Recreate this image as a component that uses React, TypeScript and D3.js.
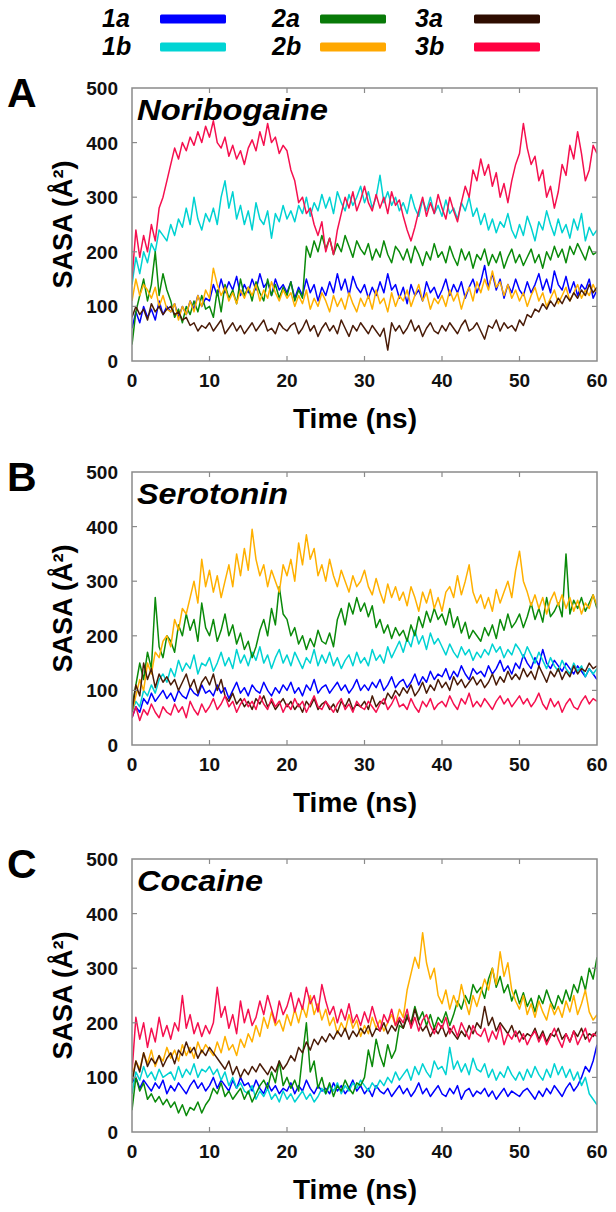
import React from "react";
import * as d3 from "d3";

// ---------- data (SASA in Å², sampled every 0.5 ns from 0 to 60 ns) ----------
const TIME_STEP = 0.5;
const seriesKeys = ["1a", "1b", "2a", "2b", "3a", "3b"];
const seriesColors = ["#0000ff", "#00d2d2", "#0a8a0a", "#ffb000", "#4a1c08", "#f5104f"];
const legendColors = ["#0000ff", "#00d4d4", "#087a08", "#ffa800", "#2e0c00", "#ff0040"];
const panelLetters = ["A", "B", "C"];
const panelTitles = ["Noribogaine", "Serotonin", "Cocaine"];
const xTicks = [0, 10, 20, 30, 40, 50, 60];
const yTicks = [0, 100, 200, 300, 400, 500];

const A_1a = [60,90,70,100,80,95,75,110,85,100, 90,105,80,100,85,110,95,120,100,115, 110,140,120,150,125,145,130,155,120,140, 125,150,130,160,135,145,120,150,130,140, 125,145,115,135,120,150,125,140,110,135, 120,145,125,160,130,150,120,155,135,125, 140,115,135,120,145,125,160,130,140,115, 135,105,140,120,130,110,145,125,135,115, 130,150,120,140,125,145,115,135,150,125, 145,175,135,160,130,150,115,140,125,150, 130,120,145,125,140,160,130,150,125,165, 140,130,155,125,145,120,140,130,150,115, 130];
const A_1b = [140,190,160,200,180,215,200,240,230,220, 250,230,260,245,280,250,300,260,240,270, 255,280,250,300,330,280,310,260,285,250, 275,240,290,260,250,275,225,270,255,285, 260,275,255,285,270,300,265,290,275,305, 280,300,270,310,290,275,305,285,300,320, 290,310,280,300,340,290,310,285,300,275, 290,270,305,280,265,295,275,300,270,285, 265,295,270,280,260,290,275,300,265,280, 250,270,240,260,235,255,245,270,240,225, 250,230,265,245,220,255,240,275,250,230, 260,235,250,225,260,240,270,220,245,230, 240];
const A_2a = [30,90,120,150,110,140,200,120,160,130, 110,80,95,70,100,85,110,90,120,95, 100,80,130,90,140,115,130,105,150,120, 135,110,145,125,110,150,120,140,115,135, 120,145,110,130,115,210,190,220,200,230, 205,225,195,215,200,230,210,190,220,205, 195,215,185,205,190,220,195,180,210,200, 185,205,180,210,195,175,200,185,215,190, 200,180,210,190,175,205,185,200,170,195, 185,205,175,195,180,200,170,190,205,180, 195,175,190,205,180,195,170,200,185,210, 190,205,180,210,195,215,200,185,210,195, 200];
const A_2b = [110,150,120,140,130,115,135,100,120,95, 90,105,75,100,85,110,90,120,100,130, 115,170,140,120,135,110,125,105,130,115, 135,120,140,110,130,115,145,125,110,130, 115,125,100,120,105,130,95,115,100,125, 110,90,120,100,115,95,125,105,90,115, 100,120,95,130,105,115,90,125,100,120, 110,130,100,120,140,110,125,95,115,105, 120,100,130,110,125,95,120,135,110,145, 125,150,130,165,135,145,120,140,115,130, 110,125,100,120,135,110,125,100,115,130, 105,120,135,110,125,140,115,130,120,140, 125];
const A_3a = [80,100,85,95,75,105,90,100,85,95, 100,85,90,75,80,65,70,55,65,60, 70,55,65,75,50,60,70,55,65,50, 60,70,55,65,75,55,60,50,70,60, 55,65,70,50,60,75,55,65,45,60, 70,55,65,50,75,60,45,65,55,70, 60,50,65,55,45,60,20,70,55,65, 50,60,75,55,65,45,60,70,55,50, 65,55,70,60,50,65,75,55,60,70, 55,40,65,60,75,55,70,60,65,55, 75,65,85,80,95,90,105,95,110,100, 115,105,120,110,125,115,130,120,140,125, 135];
const A_3b = [150,240,190,230,200,250,220,280,300,330, 360,390,370,400,385,410,395,420,400,430, 410,440,400,390,410,375,395,370,385,360, 390,405,385,420,395,435,400,410,380,395, 385,350,330,290,300,270,280,250,230,255, 200,225,195,240,270,300,280,310,275,295, 320,290,275,305,280,300,270,310,285,295, 265,240,220,245,275,300,265,290,270,305, 280,260,300,275,255,290,320,300,350,330, 370,340,360,320,345,300,325,290,330,360, 380,435,390,360,375,330,350,300,320,280, 310,360,340,395,370,420,380,330,350,395, 380];

const B_1a = [50,70,60,85,75,95,80,90,100,85, 95,80,100,90,85,105,95,90,110,95, 100,90,110,95,105,85,100,115,95,105, 90,110,100,95,115,100,90,105,95,110, 100,115,95,105,90,110,100,120,95,105, 110,95,105,115,100,110,95,105,120,100, 110,100,115,105,120,100,110,125,105,115, 120,105,115,130,110,125,115,135,120,130, 125,140,120,135,125,145,130,120,140,130, 135,125,145,130,140,155,135,145,130,150, 140,165,150,140,160,145,175,150,140,155, 145,135,150,140,130,145,135,125,140,130, 120];
const B_1b = [60,80,70,100,90,110,95,120,130,115, 140,125,155,135,150,140,165,130,150,145, 160,135,150,170,145,160,140,175,150,165, 145,170,155,180,150,165,140,160,175,150, 165,145,170,155,140,160,150,175,145,165, 150,170,145,160,140,155,165,145,170,150, 160,145,175,155,165,150,180,160,175,190, 170,195,180,210,185,200,175,205,185,195, 180,165,185,170,160,180,165,175,155,170, 160,175,165,185,170,180,160,175,165,185, 175,160,180,165,150,170,155,140,160,145, 135,155,140,130,150,135,145,125,140,130, 140];
const B_2a = [70,110,150,120,170,140,270,180,160,200, 190,170,220,200,240,210,230,190,260,215, 200,230,190,210,240,200,220,185,205,175, 190,160,180,210,230,200,250,220,290,240, 230,200,215,185,200,175,195,180,210,190, 185,205,180,230,250,220,260,240,270,245, 260,235,255,215,230,205,220,195,215,200, 210,190,220,200,235,215,245,225,250,230, 240,220,250,215,235,205,225,195,210,200, 190,215,200,220,195,230,210,240,215,225, 240,215,235,260,230,250,225,270,235,245, 260,235,350,240,265,250,270,245,260,275, 250];
const B_2b = [60,90,120,100,150,130,170,160,190,200, 180,230,210,250,240,270,300,260,340,290, 320,280,310,270,300,330,290,350,310,360, 320,395,340,310,330,290,320,300,280,330, 310,340,300,370,330,385,340,360,310,330, 300,340,310,290,320,300,280,310,290,300, 320,290,275,305,280,260,295,270,290,265, 280,255,290,270,245,280,260,285,250,270, 245,280,290,270,310,275,300,330,280,260, 275,250,270,245,285,260,280,300,270,320, 355,300,280,255,275,250,270,240,265,280, 255,275,250,270,245,265,240,260,250,275, 255];
const B_3a = [60,110,90,150,120,140,105,130,115,125, 110,120,100,115,130,105,120,95,115,125, 110,130,100,120,90,80,95,75,85,70, 80,65,85,75,90,70,80,65,75,85, 70,80,65,75,60,80,70,85,65,75, 80,65,75,60,80,70,85,65,75,70, 80,65,90,70,80,75,95,85,100,90, 105,95,110,90,100,115,95,110,100,120, 105,115,100,125,110,120,105,115,125,110, 120,105,115,130,110,125,115,135,120,130, 120,140,125,135,120,145,130,115,135,125, 140,120,135,125,145,130,140,135,150,140, 145];
const B_3b = [50,70,45,65,55,75,60,50,70,60, 55,75,60,70,50,80,65,55,75,60, 70,85,65,75,90,70,80,60,75,85, 70,80,65,90,75,65,85,70,80,60, 75,65,85,70,80,60,75,90,70,65, 80,70,60,75,85,65,75,60,80,70, 65,80,70,60,75,85,65,75,90,70, 75,65,85,70,60,80,70,85,65,75, 80,70,90,75,65,85,75,95,70,80, 70,85,75,65,80,90,75,85,70,80, 90,75,85,70,80,95,75,65,85,70, 80,60,75,85,70,65,80,90,75,85, 80];

const C_1a = [90,100,80,95,85,75,90,80,95,70, 85,75,90,80,70,85,95,80,90,75, 85,100,80,95,85,75,95,80,100,85, 90,75,95,80,70,90,75,85,70,80, 75,90,70,85,75,95,80,70,85,75, 80,70,90,75,85,70,80,95,75,85, 70,80,65,85,75,70,80,65,75,85, 70,80,65,75,90,70,80,65,75,85, 70,65,80,70,85,60,75,80,65,75, 70,80,65,75,60,70,80,65,75,70, 65,75,80,70,60,75,65,80,70,85, 75,65,80,90,75,85,100,120,110,130, 160];
const C_1b = [70,110,95,120,100,110,95,115,100,105, 110,95,120,100,115,105,125,100,115,110, 120,105,115,95,110,85,100,80,90,75, 70,85,60,75,65,80,60,70,55,75, 60,70,55,65,75,60,70,55,65,80, 70,85,75,90,70,85,75,90,80,95, 85,75,90,80,95,85,100,90,110,95, 105,115,95,120,105,125,110,100,130,115, 120,105,155,115,130,110,125,105,135,115, 110,125,100,115,95,110,100,120,105,95, 110,95,115,100,120,105,95,115,100,125, 105,120,100,115,95,110,85,100,70,60, 50];
const C_2a = [40,100,75,90,60,70,55,65,50,60, 45,55,35,50,30,45,40,55,35,50, 60,80,70,90,65,75,60,70,80,60, 75,55,70,85,95,80,110,90,130,85, 100,80,95,75,140,200,110,130,80,100, 70,90,65,85,75,95,80,70,90,85, 100,150,120,170,140,120,160,135,150,195, 190,215,200,230,205,220,195,215,190,210, 200,220,195,215,240,225,250,235,270,255, 265,245,280,300,265,285,255,270,240,260, 235,255,230,245,220,250,235,260,240,225, 250,235,260,240,270,255,285,260,300,280, 320];
const C_2b = [100,130,115,145,125,150,120,140,130,155, 135,150,130,160,140,155,135,165,145,160, 150,140,165,145,175,150,160,140,170,155, 180,165,195,175,210,190,220,195,205,185, 215,195,225,200,230,210,250,215,235,205, 225,195,210,180,200,185,215,190,205,175, 195,180,210,190,205,185,200,215,195,225, 210,260,290,320,300,365,310,280,300,250, 235,260,225,250,230,270,240,215,250,230, 255,280,260,300,270,330,285,310,260,240, 225,250,215,235,210,240,220,205,235,215, 230,210,240,220,250,215,235,260,220,205, 215];
const C_3a = [90,130,110,145,120,135,125,140,120,135, 145,125,150,140,165,145,155,135,150,140, 155,145,135,125,115,130,105,120,100,115, 105,120,110,125,115,105,120,110,130,115, 125,140,130,155,145,165,150,170,160,175, 165,180,170,185,175,190,170,185,175,190, 180,195,175,190,185,200,180,195,185,205, 190,210,195,225,200,185,195,175,190,180, 195,175,190,180,170,185,175,195,180,200, 190,230,195,210,185,200,190,180,195,175, 185,170,180,175,190,170,185,165,180,175, 190,170,180,165,185,175,190,170,180,175, 185];
const C_3b = [110,210,170,200,155,190,165,210,175,195, 170,200,185,250,190,215,180,200,175,195, 180,200,265,210,230,190,215,180,240,200, 225,195,210,240,215,250,225,200,240,215, 230,255,220,245,225,265,235,250,220,270, 240,215,230,200,225,205,235,200,215,195, 220,200,230,205,185,215,200,225,195,210, 200,225,190,210,185,205,215,195,180,200, 190,210,180,195,175,200,185,170,195,180, 175,190,165,185,170,195,160,180,170,185, 165,180,160,175,185,165,180,160,175,190, 170,155,180,165,185,160,175,190,165,180, 175];

const panelSeries = [
  [A_1a, A_1b, A_2a, A_2b, A_3a, A_3b],
  [B_1a, B_1b, B_2a, B_2b, B_3a, B_3b],
  [C_1a, C_1b, C_2a, C_2b, C_3a, C_3b],
];

// ---------- layout ----------
const W = 616;
const H = 1212;
const plotLeft = 132;
const plotRight = 597;
const panelTops = [88, 472, 859];
const plotH = 273;
const titleWidths = [191, 151, 126];
const FONT = "'Liberation Sans', Arial, Helvetica, sans-serif";

function Panel({ idx }: { idx: number }) {
  const top = panelTops[idx];
  const bottom = top + plotH;
  const x = d3.scaleLinear().domain([0, 60]).range([plotLeft, plotRight]);
  const y = d3.scaleLinear().domain([0, 500]).range([bottom, top]);
  const line = d3
    .line<number>()
    .x((_, i) => x(i * TIME_STEP))
    .y((v) => y(v))
    .curve(d3.curveLinear);
  const clipId = `clip-${idx}`;
  const frame = "#8a8a8a";
  const tickLen = 5;
  return (
    <g>
      <defs>
        <clipPath id={clipId}>
          <rect x={plotLeft} y={top} width={plotRight - plotLeft} height={plotH} />
        </clipPath>
      </defs>
      <g clipPath={`url(#${clipId})`}>
        {panelSeries[idx].map((vals, si) => (
          <path
            key={si}
            d={line(vals) || ""}
            fill="none"
            stroke={seriesColors[si]}
            strokeWidth={1.5}
            strokeLinejoin="round"
          />
        ))}
      </g>
      <rect
        x={plotLeft}
        y={top}
        width={plotRight - plotLeft}
        height={plotH}
        fill="none"
        stroke={frame}
        strokeWidth={1.5}
      />
      {xTicks.slice(1, -1).map((t) => (
        <g key={"xt" + t}>
          <line x1={x(t)} x2={x(t)} y1={bottom} y2={bottom - tickLen} stroke={frame} strokeWidth={1.2} />
          <line x1={x(t)} x2={x(t)} y1={top} y2={top + tickLen} stroke={frame} strokeWidth={1.2} />
        </g>
      ))}
      {yTicks.slice(1, -1).map((t) => (
        <g key={"yt" + t}>
          <line x1={plotLeft} x2={plotLeft + tickLen} y1={y(t)} y2={y(t)} stroke={frame} strokeWidth={1.2} />
          <line x1={plotRight} x2={plotRight - tickLen} y1={y(t)} y2={y(t)} stroke={frame} strokeWidth={1.2} />
        </g>
      ))}
      {xTicks.map((t) => (
        <text
          key={"xl" + t}
          x={x(t)}
          y={bottom + 26}
          textAnchor="middle"
          fontFamily={FONT}
          fontWeight="bold"
          fontSize={19}
          fill="#111"
        >
          {t}
        </text>
      ))}
      {yTicks.map((t) => (
        <text
          key={"yl" + t}
          x={118}
          y={y(t) + 7}
          textAnchor="end"
          fontFamily={FONT}
          fontWeight="bold"
          fontSize={19}
          fill="#111"
        >
          {t}
        </text>
      ))}
      <text
        x={355}
        y={bottom + 67}
        textAnchor="middle"
        fontFamily={FONT}
        fontWeight="bold"
        fontSize={28}
        fill="#000"
      >
        Time (ns)
      </text>
      <text
        transform={`translate(72, ${(top + bottom) / 2}) rotate(-90)`}
        textAnchor="middle"
        fontFamily={FONT}
        fontWeight="bold"
        fontSize={27}
        fill="#000"
      >
        SASA (Å²)
      </text>
      <text x={7} y={top + 19} fontFamily={FONT} fontWeight="bold" fontSize={41} fill="#000">
        {panelLetters[idx]}
      </text>
      <text
        x={137}
        y={top + 32}
        fontFamily={FONT}
        fontWeight="bold"
        fontStyle="italic"
        fontSize={30}
        textLength={titleWidths[idx]}
        lengthAdjust="spacingAndGlyphs"
        fill="#000"
      >
        {panelTitles[idx]}
      </text>
    </g>
  );
}

function Legend() {
  const labelX = [102, 272, 415];
  const swatchX = [160, 320, 474];
  const rowY = [19, 47];
  return (
    <g>
      {seriesKeys.map((k, i) => {
        const col = Math.floor(i / 2);
        const row = i % 2;
        return (
          <g key={k}>
            <text
              x={labelX[col]}
              y={rowY[row] + 8}
              fontFamily={FONT}
              fontWeight="bold"
              fontStyle="italic"
              fontSize={25}
              fill="#000"
            >
              {k}
            </text>
            <rect
              x={swatchX[col]}
              y={rowY[row] - 4.5}
              width={66}
              height={9}
              rx={1.5}
              fill={legendColors[i]}
            />
          </g>
        );
      })}
    </g>
  );
}

export default function App() {
  return (
    <svg
      width={W}
      height={H}
      viewBox={`0 0 ${W} ${H}`}
      style={{ position: "absolute", left: 0, top: 0, background: "#fff" }}
    >
      <rect x={0} y={0} width={W} height={H} fill="#fff" />
      <Legend />
      {[0, 1, 2].map((i) => (
        <Panel key={i} idx={i} />
      ))}
    </svg>
  );
}
